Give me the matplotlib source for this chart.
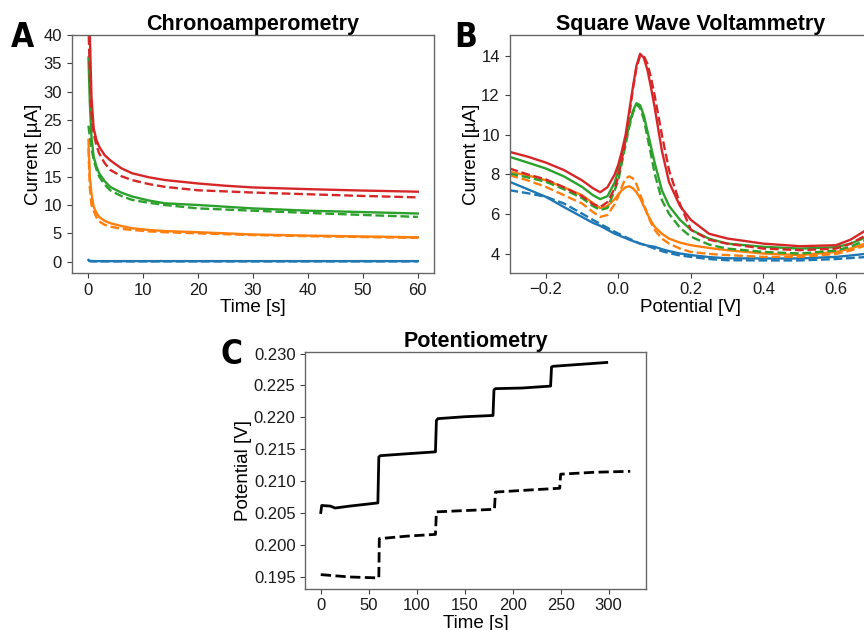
import matplotlib
matplotlib.use("Agg")
import matplotlib.pyplot as plt

plt.rcParams['font.family'] = ['Liberation Sans', 'DejaVu Sans']

# ---- Chronoamperometry data ----
ca_time = [0.05, 0.3, 0.6, 1, 1.5, 2, 3, 4, 6, 8, 11, 14, 20, 25, 30, 40, 50, 60]
ca_blue_solid = [0.3, 0.15, 0.12, 0.1, 0.1, 0.1, 0.1, 0.1, 0.1, 0.1, 0.1, 0.1, 0.1, 0.1, 0.1, 0.1, 0.1, 0.1]
ca_blue_dash = [0.2, 0.08, 0.06, 0.05, 0.05, 0.05, 0.05, 0.05, 0.05, 0.05, 0.05, 0.05, 0.05, 0.05, 0.05, 0.05, 0.05, 0.05]
ca_orange_solid = [21.5, 15, 12, 9.7, 8.6, 7.9, 7.2, 6.8, 6.3, 5.9, 5.6, 5.4, 5.2, 5.0, 4.8, 4.6, 4.45, 4.3]
ca_orange_dash = [20, 13, 10, 9, 7.8, 7.1, 6.5, 6.2, 5.8, 5.6, 5.35, 5.2, 5.0, 4.85, 4.7, 4.5, 4.35, 4.2]
ca_green_solid = [36, 28, 22, 18.5, 16.8, 15.6, 14.2, 13.2, 12.2, 11.5, 10.8, 10.3, 10.0, 9.7, 9.4, 9.0, 8.75, 8.5]
ca_green_dash = [24, 22, 20, 18, 16.3, 15.0, 13.6, 12.6, 11.6, 10.9, 10.4, 10.0, 9.4, 9.2, 9.0, 8.6, 8.25, 7.9]
ca_red_solid = [60, 40, 29, 23.5, 21.5, 20.3, 18.8, 17.9, 16.5, 15.6, 14.9, 14.4, 13.8, 13.4, 13.1, 12.8, 12.55, 12.35]
ca_red_dash = [42, 33, 26, 22.6, 20.5, 19.1, 17.4, 16.2, 15.1, 14.4, 13.7, 13.2, 12.6, 12.4, 12.2, 11.9, 11.6, 11.35]

# ---- Square wave voltammetry data ----
swv_e = [-0.3, -0.25, -0.2, -0.15, -0.1, -0.07, -0.05, -0.03, -0.01, 0.0, 0.01, 0.02, 0.03,
         0.04, 0.05, 0.06, 0.07, 0.08, 0.09, 0.1, 0.12, 0.14, 0.17, 0.2, 0.25, 0.3, 0.4,
         0.5, 0.6, 0.64, 0.68, 0.7]
swv_blue_solid = [7.63, 7.25, 6.87, 6.35, 5.85, 5.55, 5.4, 5.2, 5.0, 4.93, 4.85, 4.78, 4.7,
                  4.63, 4.57, 4.5, 4.45, 4.4, 4.37, 4.34, 4.22, 4.12, 4.0, 3.92, 3.82, 3.76, 3.75,
                  3.75, 3.83, 3.9, 3.98, 4.0]
swv_blue_dash = [7.2, 7.05, 6.87, 6.53, 6.02, 5.7, 5.5, 5.3, 5.1, 5.01, 4.92, 4.83, 4.75,
                 4.67, 4.58, 4.5, 4.45, 4.38, 4.32, 4.25, 4.12, 4.02, 3.9, 3.83, 3.72, 3.66, 3.65,
                 3.65, 3.72, 3.77, 3.82, 3.85]
swv_orange_solid = [8.13, 7.95, 7.7, 7.35, 6.95, 6.55, 6.3, 6.4, 6.75, 7.0, 7.2, 7.35, 7.4,
                    7.3, 7.1, 6.8, 6.4, 6.0, 5.65, 5.35, 5.0, 4.75, 4.55, 4.42, 4.28, 4.17, 4.0,
                    3.92, 4.08, 4.25, 4.5, 4.7]
swv_orange_dash = [7.96, 7.7, 7.37, 6.95, 6.53, 6.1, 5.85, 5.95, 6.5, 6.9, 7.4, 7.8, 7.9,
                   7.8, 7.5, 7.0, 6.5, 6.0, 5.55, 5.2, 4.75, 4.5, 4.25, 4.08, 3.98, 3.92, 3.83,
                   3.83, 3.98, 4.15, 4.4, 4.6]
swv_green_solid = [8.89, 8.6, 8.3, 7.9, 7.37, 6.95, 6.75, 6.9, 7.6, 8.2, 8.9, 9.7, 10.5,
                   11.2, 11.6, 11.5, 11.0, 10.2, 9.4, 8.6, 7.2, 6.4, 5.7, 5.2, 4.75, 4.5, 4.34,
                   4.25, 4.32, 4.5, 4.8, 5.0]
swv_green_dash = [8.05, 7.85, 7.63, 7.25, 6.8, 6.4, 6.2, 6.3, 7.2, 7.7, 8.6, 9.5, 10.4,
                  11.1, 11.55, 11.35, 10.8, 9.9, 9.0, 8.05, 6.7, 6.0, 5.3, 4.85, 4.45, 4.25, 4.08,
                  4.0, 4.15, 4.35, 4.65, 4.85]
swv_red_solid = [9.14, 8.9, 8.6, 8.22, 7.7, 7.3, 7.1, 7.35, 8.0, 8.5, 9.2, 10.0, 11.2,
                 12.4, 13.5, 14.1, 13.9, 13.3, 12.4, 11.4, 9.2, 7.6, 6.4, 5.7, 5.0, 4.76, 4.5,
                 4.37, 4.42, 4.7, 5.15, 5.45]
swv_red_dash = [8.3, 8.0, 7.75, 7.35, 6.9, 6.5, 6.35, 6.6, 7.3, 7.9, 8.8, 9.8, 11.0,
                12.3, 13.4, 14.0, 14.0, 13.6, 12.9, 12.0, 10.0, 8.2, 6.5, 5.2, 4.7, 4.5, 4.25,
                4.17, 4.25, 4.5, 4.9, 5.2]

# ---- Potentiometry data ----
pot_t_solid = [0, 1, 10, 15, 30, 59.5, 60.5, 62, 90, 119.5, 120.5, 122, 150, 179.5,
               180.5, 182, 210, 239.5, 240.5, 242, 270, 298]
pot_v_solid = [0.2051, 0.2062, 0.2061, 0.2058, 0.2061, 0.2066, 0.2138, 0.2140, 0.2143, 0.2146,
               0.2195, 0.2198, 0.2201, 0.2203, 0.2243, 0.2245, 0.2246, 0.2249, 0.2279, 0.2280,
               0.2283, 0.2286]
pot_t_dash = [0, 30, 60.5, 61, 90, 119.5, 120.5, 150, 181, 182, 215, 249, 250, 285, 322.5]
pot_v_dash = [0.19537, 0.1950, 0.19485, 0.2010, 0.2014, 0.20167, 0.2052, 0.2054, 0.2056,
              0.2083, 0.2086, 0.2089, 0.2111, 0.2114, 0.21155]

fig = plt.figure(figsize=(8.64, 6.3), dpi=100)

W, H = 864, 630


def add_ax(x0, y0, x1, y1):
    return fig.add_axes([x0 / W, 1 - y1 / H, (x1 - x0) / W, (y1 - y0) / H])


def style(ax):
    for s in ax.spines.values():
        s.set_color('0.4')
        s.set_linewidth(1.0)
    ax.tick_params(labelsize=12, length=3.5, width=0.8, color='0.25', labelcolor='0.1')


lw = 1.7
title_size = 15.5
label_size = 13.5
blue, orange, green, red = 'tab:blue', 'tab:orange', 'tab:green', 'tab:red'

# ---- Panel A ----
axA = add_ax(71.7, 35, 434.3, 273.3)
for ys, yd, c in [(ca_blue_solid, ca_blue_dash, blue),
                  (ca_orange_solid, ca_orange_dash, orange),
                  (ca_green_solid, ca_green_dash, green),
                  (ca_red_solid, ca_red_dash, red)]:
    axA.plot(ca_time, ys, color=c, lw=lw)
    axA.plot(ca_time, yd, color=c, lw=lw, ls='--')
axA.set_xlim(-3, 63)
axA.set_ylim(-2.05, 40)
axA.set_xticks([0, 10, 20, 30, 40, 50, 60])
axA.set_yticks([0, 5, 10, 15, 20, 25, 30, 35, 40])
axA.set_xlabel('Time [s]', fontsize=label_size, labelpad=1)
axA.set_ylabel('Current [µA]', fontsize=label_size, labelpad=1)
axA.set_title('Chronoamperometry', fontsize=title_size, fontweight='bold', pad=3)
style(axA)

# ---- Panel B ----
axB = add_ax(509.5, 35, 872.3, 272.7)
for ys, yd, c in [(swv_blue_solid, swv_blue_dash, blue),
                  (swv_orange_solid, swv_orange_dash, orange),
                  (swv_green_solid, swv_green_dash, green),
                  (swv_red_solid, swv_red_dash, red)]:
    axB.plot(swv_e, ys, color=c, lw=lw)
    axB.plot(swv_e, yd, color=c, lw=lw, ls='--')
axB.set_xlim(-0.3, 0.7)
axB.set_ylim(3.03, 15.05)
axB.set_xticks([-0.2, 0.0, 0.2, 0.4, 0.6])
axB.set_yticks([4, 6, 8, 10, 12, 14])
axB.set_xlabel('Potential [V]', fontsize=label_size, labelpad=1)
axB.set_ylabel('Current [µA]', fontsize=label_size, labelpad=1)
axB.set_title('Square Wave Voltammetry', fontsize=title_size, fontweight='bold', pad=3)
style(axB)

# ---- Panel C ----
axC = add_ax(305.3, 351.7, 645.7, 588.7)
axC.plot(pot_t_solid, pot_v_solid, color='black', lw=2.0)
axC.plot(pot_t_dash, pot_v_dash, color='black', lw=2.0, ls='--')
axC.set_xticks([0, 50, 100, 150, 200, 250, 300])
axC.set_yticks([0.195, 0.200, 0.205, 0.210, 0.215, 0.220, 0.225, 0.230])
axC.yaxis.set_major_formatter(matplotlib.ticker.FormatStrFormatter('%.3f'))
axC.set_xlabel('Time [s]', fontsize=label_size, labelpad=1)
axC.set_ylabel('Potential [V]', fontsize=label_size, labelpad=1)
axC.set_title('Potentiometry', fontsize=title_size, fontweight='bold', pad=3)
style(axC)

# ---- Panel letters ----
letter_font = dict(fontsize=24, fontweight='bold', family='DejaVu Sans', fontstretch='condensed',
                   va='top', ha='left')
fig.text(11 / W, 1 - 21 / H, 'A', **letter_font)
fig.text(454 / W, 1 - 21 / H, 'B', **letter_font)
fig.text(221 / W, 1 - 338 / H, 'C', **letter_font)

fig.savefig('out.png', dpi=100)
